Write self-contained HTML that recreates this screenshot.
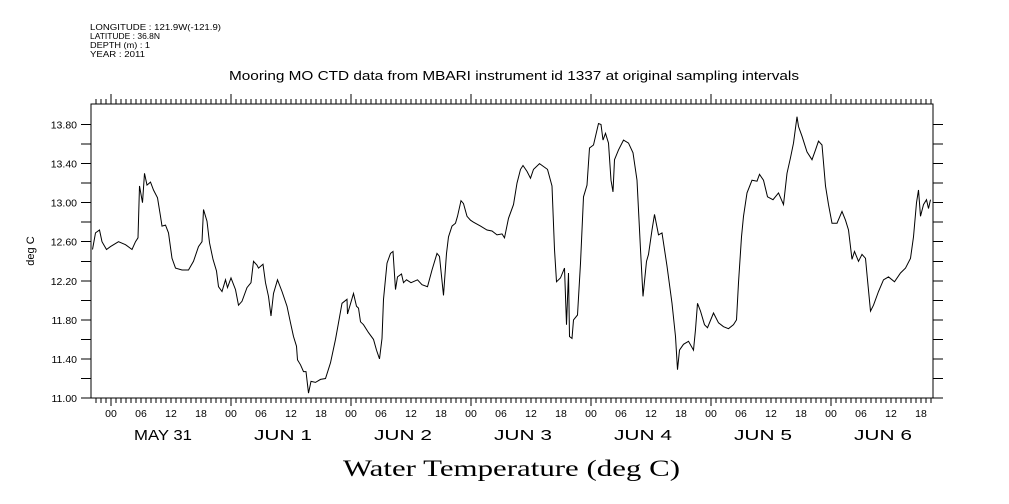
<!DOCTYPE html>
<html><head><meta charset="utf-8"><style>
body{margin:0;background:#fff;}
svg{display:block;font-family:"Liberation Sans",sans-serif;}
</style></head><body>
<svg id="chart" width="1009" height="504">
<text x="90" y="30" font-size="8.5" textLength="131" lengthAdjust="spacingAndGlyphs">LONGITUDE : 121.9W(-121.9)</text>
<text x="90" y="39" font-size="8.5" textLength="70" lengthAdjust="spacingAndGlyphs">LATITUDE : 36.8N</text>
<text x="90" y="48" font-size="8.5" textLength="60" lengthAdjust="spacingAndGlyphs">DEPTH (m) : 1</text>
<text x="90" y="57" font-size="8.5" textLength="55" lengthAdjust="spacingAndGlyphs">YEAR : 2011</text>
<text x="229" y="80" font-size="12.5" textLength="570" lengthAdjust="spacingAndGlyphs">Mooring MO CTD data from MBARI instrument id 1337 at original sampling intervals</text>
<text x="34" y="251" font-size="11" text-anchor="middle" transform="rotate(-90 34 251)">deg C</text>
<text x="343" y="476" font-size="23" textLength="337" lengthAdjust="spacingAndGlyphs" font-family="Liberation Serif, serif">Water Temperature (deg C)</text>
<g id="axes"></g>
<path id="line" fill="none" stroke="#000" stroke-width="1"></path>
</svg>
<script>
const times=[-3.7,-3.1,-2.3,-1.8,-0.9,-0.1,1.5,2.9,4.2,4.9,5.4,5.7,6.3,6.7,7.2,7.9,8.5,9.3,9.9,10.2,10.9,11.5,12.2,12.9,14.2,15.5,16.5,17.5,18.2,18.5,19.2,19.7,20.4,21.1,21.5,22.2,22.9,23.3,24,24.9,25.5,26.2,27.2,28,28.5,29.2,29.5,30.4,30.9,31.5,32,32.5,33.3,34.2,35.2,35.9,36.5,37.1,37.3,37.9,38.5,39,39.5,40,40.9,41.9,42.9,43.9,44.9,45.5,46.2,47.2,47.3,48.5,49.1,49.5,49.9,50.5,51.5,52.5,53.1,53.7,54.2,54.5,55.2,55.9,56.4,56.9,57.3,58.1,58.5,59.1,60,61.3,62.2,63.3,64.2,65.2,65.7,66.5,67.1,67.5,68.2,68.9,69.3,70,70.5,71.2,71.9,72.5,73.9,75.2,76.2,77.2,78.2,78.7,79.5,80.5,81.2,81.9,82.4,83.2,83.9,84.5,85.7,86.5,87.3,88.2,88.7,89.1,89.9,90.7,91.1,91.5,91.7,92.2,92.5,93.3,93.9,94.5,95.2,95.7,96.5,97.5,98,98.4,98.9,99.5,100,100.4,100.7,101.5,102.5,103.5,104.4,105.2,105.9,106.4,107.1,107.5,108.2,108.7,109.5,110.2,111.2,112.2,112.9,113.3,113.7,114.5,115.5,116.5,116.9,117.3,117.9,118.7,119.3,120.5,121.5,122.5,123.5,124.5,125.1,125.5,126.1,126.5,127.2,128.2,129.2,129.7,130.5,131.3,132.4,133.5,134.5,135.2,135.9,136.5,137.2,137.5,138.2,139.2,140.2,140.9,141.5,142.2,142.9,143.5,144.2,145.2,146.2,146.9,147.5,148.2,148.7,149.5,150.2,150.9,151.3,151.9,152.5,153.5,154.5,155.5,156.7,157.9,158.9,159.9,160.5,161.1,161.5,161.9,162.5,163.1,163.5,163.9];
const temps=[12.52,12.69,12.72,12.60,12.52,12.55,12.60,12.57,12.52,12.60,12.64,13.17,13.0,13.30,13.18,13.21,13.13,13.05,12.86,12.76,12.77,12.69,12.43,12.33,12.31,12.31,12.40,12.55,12.60,12.93,12.81,12.59,12.42,12.30,12.14,12.09,12.21,12.13,12.23,12.11,11.95,11.99,12.13,12.18,12.40,12.36,12.33,12.37,12.18,12.04,11.84,12.07,12.21,12.09,11.94,11.77,11.63,11.53,11.39,11.34,11.27,11.27,11.05,11.17,11.16,11.19,11.20,11.36,11.60,11.77,11.97,12.01,11.86,12.07,11.94,11.92,11.78,11.75,11.67,11.60,11.49,11.40,11.61,12.01,12.38,12.48,12.50,12.11,12.24,12.27,12.18,12.21,12.18,12.21,12.16,12.14,12.31,12.48,12.45,12.05,12.48,12.65,12.76,12.79,12.86,13.02,12.99,12.86,12.82,12.80,12.76,12.72,12.71,12.67,12.68,12.64,12.84,12.98,13.20,13.34,13.38,13.32,13.25,13.34,13.40,13.37,13.34,13.17,12.52,12.19,12.23,12.33,11.75,12.28,11.63,11.61,11.80,11.85,12.38,13.06,13.18,13.56,13.59,13.81,13.80,13.64,13.71,13.61,13.23,13.11,13.44,13.54,13.64,13.61,13.51,13.23,12.52,12.04,12.40,12.47,12.72,12.88,12.67,12.69,12.35,11.97,11.63,11.29,11.49,11.55,11.58,11.49,11.70,11.97,11.89,11.75,11.72,11.87,11.77,11.73,11.71,11.75,11.80,12.18,12.65,12.86,13.10,13.23,13.22,13.29,13.23,13.06,13.03,13.10,12.98,13.30,13.46,13.61,13.88,13.78,13.68,13.52,13.44,13.54,13.63,13.59,13.17,12.98,12.79,12.79,12.91,12.82,12.72,12.42,12.50,12.40,12.47,12.43,12.21,11.89,11.95,12.09,12.21,12.24,12.19,12.28,12.33,12.43,12.65,13.0,13.13,12.86,12.98,13.03,12.94,13.03];
const yTickLabels=["11.00","11.40","11.80","12.20","12.60","13.00","13.40","13.80"];
const dayLabels=["MAY 31","JUN  1","JUN  2","JUN  3","JUN  4","JUN  5","JUN  6"];
const hourLabels=["00","06","12","18"];

const L=91,R=933,T=104,B=398,t0=-4,t1=164.4,v0=11,v1=14.01;
const X=t=>L+(t-t0)/(t1-t0)*(R-L);
const Y=v=>B-(v-v0)/(v1-v0)*(B-T);
const NS="http://www.w3.org/2000/svg";
const ax=document.getElementById('axes');
let d=`M${L},${T}H${R}V${B}H${L}Z`;
for(let h=-3;h<=164;h++){
  const x=X(h);
  const day=((h%24)+24)%24===0;
  d+=`M${x},${B}v${day?8:5}M${x},${T}v${day?-10:-5}`;
}
for(let k=0;k<=14;k++){const y=Y(11+k*0.2);d+=`M${L},${y}h-10M${R},${y}h10`;}
const frame=document.createElementNS(NS,'path');
frame.setAttribute('d',d);frame.setAttribute('stroke','#000');frame.setAttribute('fill','none');frame.setAttribute('shape-rendering','crispEdges');


ax.appendChild(frame);
function txt(x,y,s,size,name,anchor,len){
  const e=document.createElementNS(NS,'text');
  e.setAttribute('x',x);e.setAttribute('y',y);e.setAttribute('font-size',size);
  e.setAttribute('text-anchor',anchor||'middle');e.setAttribute('xml:space','preserve');
  if(len){e.setAttribute('textLength',len);e.setAttribute('lengthAdjust','spacingAndGlyphs');}
  e.textContent=s;
  
  
  ax.appendChild(e);
}
yTickLabels.forEach(s=>txt(L-14,Y(parseFloat(s))+4,s,10.5,'y-tick-label','end'));
for(let h=0;h<=162;h+=6){txt(X(h),417,hourLabels[(h/6)%4],10.5,'x-tick-label');}
dayLabels.forEach((s,i)=>txt(X(i*24+12)-8,440,s,15,'day-label','middle',58));
let p='';
times.forEach((t,i)=>{p+=(i?'L':'M')+X(t).toFixed(1)+','+Y(temps[i]).toFixed(1);});
document.getElementById('line').setAttribute('d',p);
</script>
</body></html>
